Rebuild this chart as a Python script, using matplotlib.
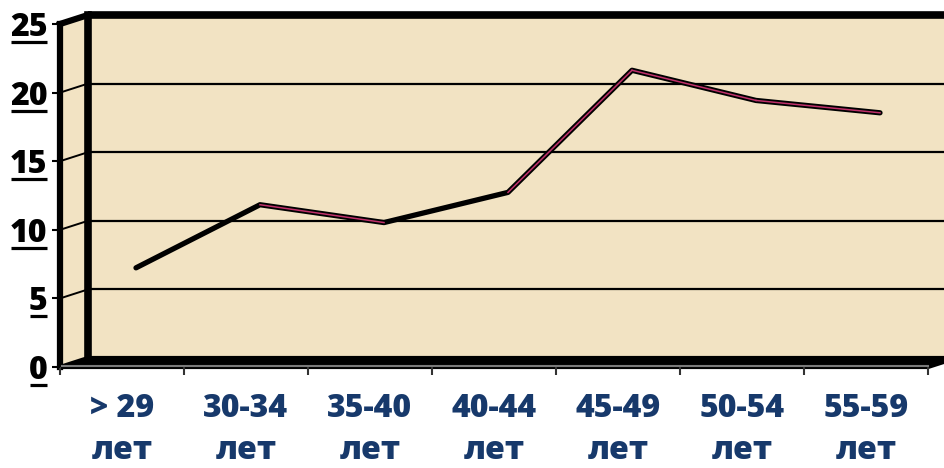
import matplotlib
matplotlib.use("Agg")
import matplotlib.pyplot as plt
from matplotlib.patches import Polygon
import matplotlib.transforms as mtransforms

categories = ["> 29\nлет", "30-34\nлет", "35-40\nлет", "40-44\nлет",
              "45-49\nлет", "50-54\nлет", "55-59\nлет"]
values = [6.9, 11.5, 10.2, 12.4, 21.3, 19.1, 18.2]
y_ticks = [0, 5, 10, 15, 20, 25]
y_max = 25

W, H = 944, 468
PARCH = "#F2E3C3"
NAVY = "#17396B"
PINK = "#C0306A"
FONT = "Open Sans"
WEIGHT = 800

fig = plt.figure(figsize=(W / 100, H / 100), dpi=100)
fig.patch.set_facecolor("white")

X0, X1 = 60, 928      # front plot left/right (px)
Y0, YT = 367, 24      # front y (px) for 0 and max
DX, DY = 28, 9        # depth offset (px)
n = len(categories)

ax_px = fig.add_axes([0, 0, 1, 1], zorder=0)
ax_px.set_xlim(0, W)
ax_px.set_ylim(H, 0)
ax_px.axis("off")


def px(xc, v, d):
    return (X0 + (X1 - X0) / n * xc + DX * d,
            Y0 - (Y0 - YT) / y_max * v - DY * d)


# walls
ax_px.add_patch(Polygon([px(0, 0, 1), px(n, 0, 1), px(n, y_max, 1), px(0, y_max, 1)],
                        closed=True, facecolor=PARCH, edgecolor="none", zorder=1))
ax_px.add_patch(Polygon([px(0, 0, 0), px(0, y_max, 0), px(0, y_max, 1), px(0, 0, 1)],
                        closed=True, facecolor=PARCH, edgecolor="none", zorder=1))


def seg(a, b, **kw):
    ax_px.plot([a[0], b[0]], [a[1], b[1]], **kw)


for v in y_ticks[1:-1]:
    seg(px(0, v, 1), px(n, v, 1), color="black", lw=1.6, zorder=2)
    seg(px(0, v, 0), px(0, v, 1), color="black", lw=1.4, zorder=2)

# floor
ax_px.add_patch(Polygon([px(0, 0, 0), px(n, 0, 0), px(n, 0, 1), px(0, 0, 1)],
                        closed=True, facecolor="black", edgecolor="black",
                        lw=3.0, joinstyle="miter", zorder=3))
seg((px(0, 0, 0)[0] + 2, px(0, 0, 0)[1] - 1), (px(n, 0, 0)[0], px(n, 0, 0)[1] - 1),
    color="#7a7a7a", lw=1.5, zorder=4)

# frame edges
seg(px(0, y_max, 1), px(n, y_max, 1), color="black", lw=5.5, zorder=3,
    solid_capstyle="butt")
seg(px(0, 0, 1), px(0, y_max, 1), color="black", lw=5.5, zorder=3,
    solid_capstyle="projecting")
seg(px(0, 0, 0), px(0, y_max, 0), color="black", lw=4.5, zorder=3,
    solid_capstyle="projecting")
seg(px(0, y_max, 0), px(0, y_max, 1), color="black", lw=4.5, zorder=3,
    solid_capstyle="projecting")

# data axes
ax = fig.add_axes([X0 / W, (H - Y0) / H, (X1 - X0) / W, (Y0 - YT) / H], zorder=2)
ax.set_xlim(0, n)
ax.set_ylim(0, y_max)
ax.patch.set_visible(False)
for s in ax.spines.values():
    s.set_visible(False)

xs = [i + 0.5 for i in range(n)]
mid = ax.transData + mtransforms.ScaledTranslation(DX / 2 / 100, DY / 2 / 100,
                                                   fig.dpi_scale_trans)
ax.plot(xs, values, color="black", lw=3.8, transform=mid,
        solid_joinstyle="round", solid_capstyle="round", zorder=5, clip_on=False)
for i in range(n - 1):
    if values[i + 1] < values[i] or (values[i + 1] - values[i]) > 5:
        ax.plot(xs[i:i + 2], values[i:i + 2], color=PINK, lw=1.1, transform=mid,
                zorder=6, clip_on=False)

ax.set_yticks(y_ticks)
ax.set_yticklabels([str(v) for v in y_ticks], fontsize=23, fontweight=WEIGHT,
                   family=FONT, color="black")
ax.tick_params(axis="y", length=6, width=1.5, pad=3, direction="out", color="black")

ax.set_xticks(xs)
ax.set_xticklabels(categories, fontsize=23, fontweight=WEIGHT, family=FONT,
                   color=NAVY, linespacing=1.42)
ax.tick_params(axis="x", which="major", length=0, pad=19)
ax.set_xticks(range(n + 1), minor=True)
ax.tick_params(axis="x", which="minor", length=6, width=1.5, direction="out",
               color="#333333")

# underline y tick labels
fig.canvas.draw()
r = fig.canvas.get_renderer()
for lab in ax.get_yticklabels():
    bb = lab.get_window_extent(r)
    yy = H - bb.y0 - 2
    ax_px.plot([bb.x0 + 1, bb.x1 - 1], [yy, yy], color="black", lw=2.3,
               solid_capstyle="butt", zorder=7)

fig.savefig("out.png", dpi=100)
